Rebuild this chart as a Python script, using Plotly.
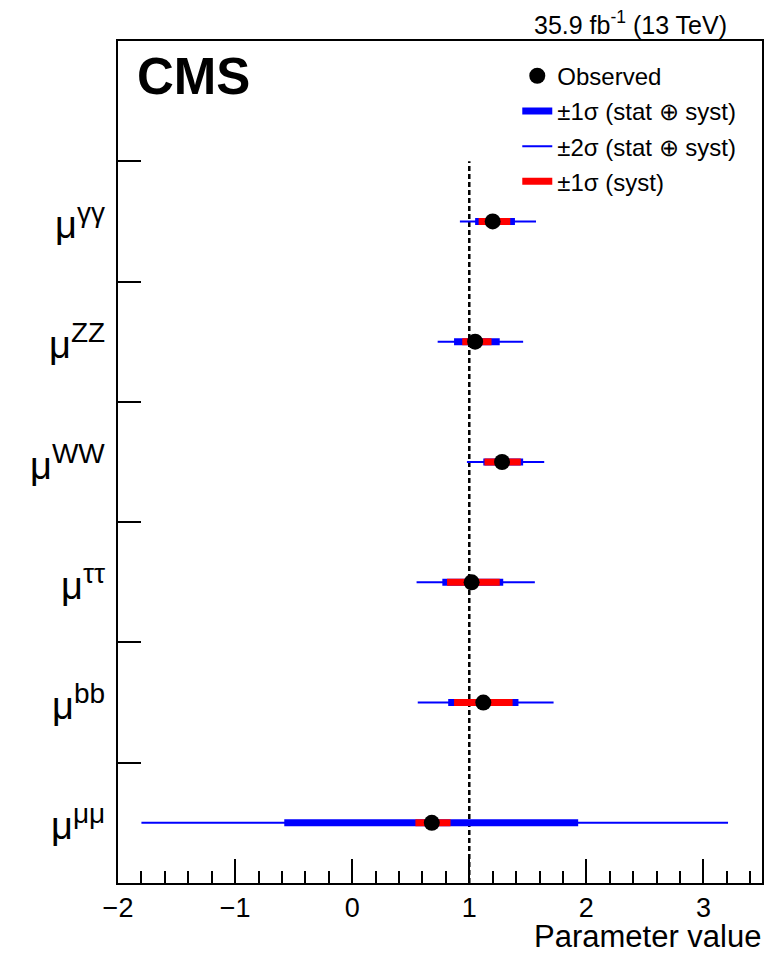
import plotly.graph_objects as go

# ---- data ----
channels = ["γγ", "ZZ", "WW", "ττ", "bb", "μμ"]
y_pos = [5.5, 4.5, 3.5, 2.5, 1.5, 0.5]
best_fit = [1.20, 1.05, 1.28, 1.02, 1.12, 0.68]
tot1_lo = [1.05, 0.87, 1.12, 0.77, 0.82, -0.58]
tot1_hi = [1.39, 1.26, 1.46, 1.29, 1.42, 1.93]
tot2_lo = [0.92, 0.73, 0.98, 0.55, 0.56, -1.80]
tot2_hi = [1.57, 1.46, 1.64, 1.56, 1.72, 3.21]
syst_lo = [1.08, 0.94, 1.13, 0.81, 0.87, 0.54]
syst_hi = [1.35, 1.19, 1.44, 1.26, 1.37, 0.84]
sm_value = 1.0
y_boundaries = [1, 2, 3, 4, 5, 6]
x_ticks = [-2, -1, 0, 1, 2, 3]

FONT = "Liberation Sans, Arial, Helvetica, sans-serif"
BLUE = "#0000ff"
RED = "#ff0000"


def segs(lo, hi, ys):
    xs, yy = [], []
    for a, b, y in zip(lo, hi, ys):
        xs += [a, b, None]
        yy += [y, y, None]
    return xs, yy


fig = go.Figure()

# SM reference line
fig.add_trace(go.Scatter(x=[sm_value, sm_value], y=[0, max(y_boundaries)], mode="lines",
                         line=dict(color="black", width=2.5, dash="5px,3px"),
                         showlegend=False, hoverinfo="skip"))

x2, y2 = segs(tot2_lo, tot2_hi, y_pos)
fig.add_trace(go.Scatter(x=x2, y=y2, mode="lines", line=dict(color=BLUE, width=2),
                         name="±2σ (stat ⊕ syst)", legendrank=3, legendgroup="c"))
x1, y1 = segs(tot1_lo, tot1_hi, y_pos)
fig.add_trace(go.Scatter(x=x1, y=y1, mode="lines", line=dict(color=BLUE, width=7),
                         name="±1σ (stat ⊕ syst)", legendrank=2, legendgroup="b"))
xs, ys = segs(syst_lo, syst_hi, y_pos)
fig.add_trace(go.Scatter(x=xs, y=ys, mode="lines", line=dict(color=RED, width=7),
                         name="±1σ (syst)", legendrank=4, legendgroup="d"))
fig.add_trace(go.Scatter(x=best_fit, y=y_pos, mode="markers",
                         marker=dict(color="black", size=16, symbol="circle"),
                         name="Observed", legendrank=1, legendgroup="a"))

annotations = []
for ch, y in zip(channels, y_pos):
    annotations.append(dict(text=f"μ<sup><span style='font-size:28px'>{ch}</span></sup>",
                            xref="paper", yref="y",
                            x=-0.017, y=y, xanchor="right", yanchor="middle",
                            showarrow=False, font=dict(family=FONT, size=38, color="black")))

annotations.append(dict(text="<b>CMS</b>", xref="paper", yref="paper", x=0.026, y=0.994,
                        xanchor="left", yanchor="top", showarrow=False,
                        font=dict(family=FONT, size=51, color="black")))
annotations.append(dict(text="35.9 fb<sup>-1</sup> (13 TeV)", xref="paper", yref="paper",
                        x=0.9488, y=1.0, xanchor="right", yanchor="bottom", showarrow=False,
                        font=dict(family=FONT, size=25, color="black")))
annotations.append(dict(text="Parameter value", xref="paper", yref="paper",
                        x=1.0016, y=-0.063, xanchor="right", yanchor="middle", showarrow=False,
                        font=dict(family=FONT, size=31, color="black")))

# the page body has an 8px margin, so the figure is 8px smaller and margins reduced by 8px
fig.update_layout(
    width=770, height=945,
    margin=dict(l=110, r=16, t=33, b=70),
    paper_bgcolor="white", plot_bgcolor="white",
    font=dict(family=FONT, color="black"),
    showlegend=True,
    legend=dict(x=0.62, y=0.985, xanchor="left", yanchor="top",
                bgcolor="rgba(0,0,0,0)", borderwidth=0,
                font=dict(family=FONT, size=24, color="black"),
                traceorder="grouped", tracegroupgap=1, itemwidth=30),
    annotations=annotations,
    xaxis=dict(range=[-2, 3.5], tickvals=x_ticks, ticktext=[str(v).replace("-", "−") for v in x_ticks],
               ticks="inside", ticklen=24, tickwidth=1.5, tickcolor="black",
               minor=dict(dtick=0.2, tick0=0, ticks="inside", ticklen=12, tickwidth=1.5, tickcolor="black"),
               showgrid=False, zeroline=False, showline=True, linecolor="black", linewidth=2,
               mirror=True, tickfont=dict(family=FONT, size=27, color="black")),
    yaxis=dict(range=[0, 7], tickvals=y_boundaries, showticklabels=False,
               ticks="inside", ticklen=23, tickwidth=1.5, tickcolor="black",
               showgrid=False, zeroline=False, showline=True, linecolor="black", linewidth=2,
               mirror=True),
)

fig.write_html("out.html")
